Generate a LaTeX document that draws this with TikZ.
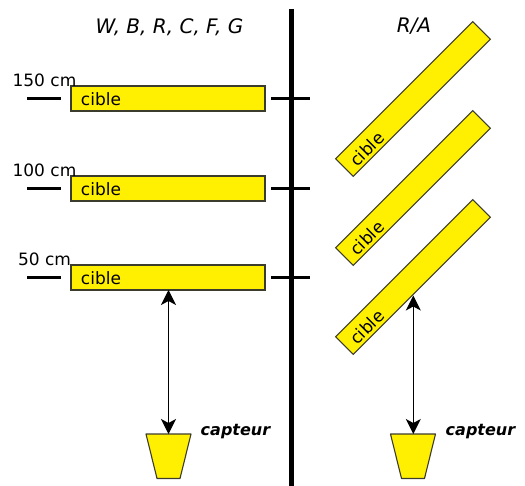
\documentclass[tikz,border=0pt]{standalone}
\usepackage{fontspec}
\setmainfont{DejaVu Sans}
\usetikzlibrary{arrows.meta}
\definecolor{targetyellow}{RGB}{255,239,0}
\definecolor{edgegrey}{RGB}{60,60,45}
\tikzset{
  target/.style={draw=edgegrey,fill=targetyellow,line width=1.1pt,minimum width=194pt,minimum height=25pt,inner sep=0pt,outer sep=0pt},
  sensorshape/.style={draw=edgegrey,fill=targetyellow,line width=1.1pt,line join=round},
  ciblelabel/.style={font=\fontsize{17}{20}\selectfont,inner sep=0pt},
  distlabel/.style={font=\fontsize{17}{20}\selectfont,inner sep=0pt},
  title/.style={font=\fontsize{20}{24}\selectfont\itshape,inner sep=0pt},
  sensorlabel/.style={font=\fontsize{16}{19}\selectfont\bfseries\itshape,inner sep=0pt},
  tick/.style={line width=3pt},
  axisline/.style={line width=5pt},
  dist/.style={line width=1.3pt,{Stealth[length=15pt,width=15pt,inset=4pt]}-{Stealth[length=15pt,width=15pt,inset=4pt]}}
}
\begin{document}
\begin{tikzpicture}[x=1pt,y=-1pt]
\useasboundingbox (0,0) rectangle (525,486);
% axis
\coordinate (axt) at (291,9);
\coordinate (axb) at (291,486);
\draw[axisline] (axt) -- (axb);
% titles
\node[title] (tleft) at (169.5,27) {W, B, R, C, F, G};
\node[title] (tright) at (414,26.5) {R/A};
% left targets
\node[target] (a1) at (168,98.5) {};
\node[target] (a2) at (168,188.5) {};
\node[target] (a3) at (168,277.5) {};
\node[ciblelabel] (ca1) at (101,99.5) {cible};
\node[ciblelabel] (ca2) at (101,189) {cible};
\node[ciblelabel] (ca3) at (101,278) {cible};
% distance labels
\node[distlabel] (d1) at (44.5,80.5) {150 cm};
\node[distlabel] (d2) at (44.5,170) {100 cm};
\node[distlabel] (d3) at (44.5,259.5) {50 cm};
% ticks
\foreach \n/\y in {1/98.5,2/188.5,3/277.5}{
  \coordinate (ll\n) at (27,\y);
  \coordinate (lr\n) at (61,\y);
  \coordinate (rl\n) at (271,\y);
  \coordinate (rr\n) at (310,\y);
  \draw[tick] (ll\n) -- (lr\n);
  \draw[tick] (rl\n) -- (rr\n);
}
% tilted targets
\node[target,rotate=45] (b1) at (413,99) {};
\node[target,rotate=45] (b2) at (413,188) {};
\node[target,rotate=45] (b3) at (413,277) {};
\node[ciblelabel,rotate=45] (cb1) at (367,149) {cible};
\node[ciblelabel,rotate=45] (cb2) at (367,238) {cible};
\node[ciblelabel,rotate=45] (cb3) at (367,327) {cible};
% sensors
\coordinate (s1) at (168.5,434);
\coordinate (s2) at (413.3,434);
\draw[sensorshape] (146,434) -- (191,434) -- (180,478.5) -- (157,478.5) -- cycle;
\draw[sensorshape] (390.5,434) -- (435.5,434) -- (424.5,478.5) -- (401.5,478.5) -- cycle;
\node[sensorlabel] (sl1) at (235.5,431.5) {capteur};
\node[sensorlabel] (sl2) at (480.5,431.5) {capteur};
% distances
\coordinate (hit) at (413.3,295.5);
\draw[dist] (a3.south -| s1) -- (s1);
\draw[dist] (hit) -- (s2);
\end{tikzpicture}
\end{document}
